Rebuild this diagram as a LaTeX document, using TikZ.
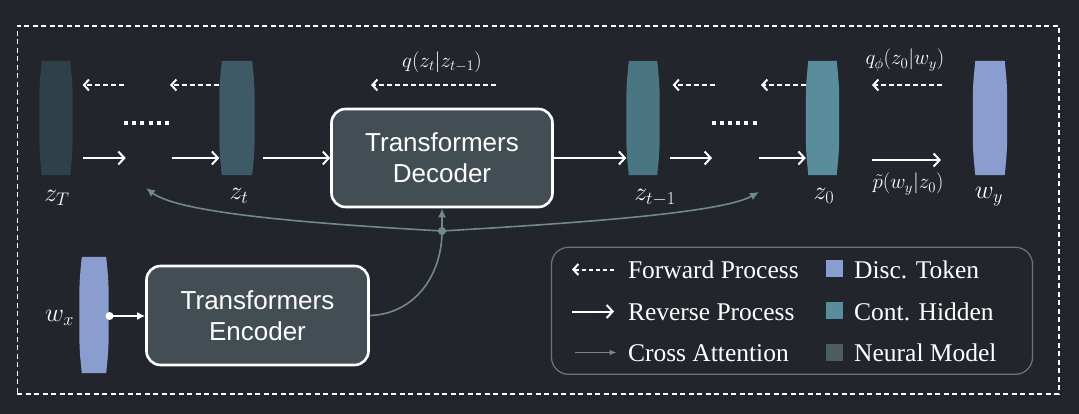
\documentclass[tikz,border=0pt]{standalone}
\usepackage{fix-cm}
\usepackage{fontspec}
\newfontfamily\boxfont{Liberation Sans}
\newfontfamily\legfont{Liberation Serif}
\usetikzlibrary{arrows.meta,calc}
\definecolor{bg}{HTML}{22252C}
\definecolor{czT}{HTML}{2F4148}
\definecolor{czt}{HTML}{3E5A66}
\definecolor{czta}{HTML}{4A7582}
\definecolor{czo}{HTML}{5A8D9B}
\definecolor{cw}{HTML}{8A9DCF}
\definecolor{cmodel}{HTML}{424E53}
\definecolor{cneural}{HTML}{4D5D5B}
\definecolor{cagreen}{HTML}{718A86}
\definecolor{leggray}{HTML}{6C757B}
\newcommand{\barrel}[2]{\fill[#2] ($(#1.north west)+(2.5,0)$) .. controls ($(#1.north west)+(0,25)$) .. (#1.west) .. controls ($(#1.south west)+(0,-25)$) .. ($(#1.south west)+(2.5,0)$) -- ($(#1.south east)+(-2.5,0)$) .. controls ($(#1.south east)+(0,-25)$) .. (#1.east) .. controls ($(#1.north east)+(0,25)$) .. ($(#1.north east)+(-2.5,0)$) -- cycle;}
\tikzset{
  tokbox/.style={inner sep=0pt, minimum width=#1, minimum height=114pt},
  tokbox/.default=33pt,
  modelbox/.style={draw=white, line width=2.6pt, fill=cmodel, rounded corners=14pt, align=center, text=white, font=\boxfont\fontsize{26}{31}\selectfont, inner sep=0pt},
  mlab/.style={text=white, font=\fontsize{26}{30}\selectfont, inner sep=0pt},
  qlab/.style={text=white, font=\fontsize{21}{25}\selectfont, inner sep=0pt},
  fwd/.style={draw=white, line width=2pt, dash pattern=on 5pt off 3pt, -{Straight Barb[length=5pt,width=11pt]}},
  rev/.style={draw=white, line width=2pt, -{Straight Barb[length=6pt,width=13pt]}},
  ca/.style={draw=cagreen, line width=1.6pt},
  catip/.style={-{Latex[length=9pt,width=8pt]}},
  dotsline/.style={draw=white, line width=4pt, dash pattern=on 4pt off 4.2pt},
  legtext/.style={text=white, font=\legfont\fontsize{25.5}{29}\selectfont, inner sep=0pt, anchor=base west},
  legsq/.style={inner sep=0pt, minimum size=16.5pt},
}
\begin{document}
\begin{tikzpicture}[x=1pt,y=-1pt]
\fill[bg] (0,0) rectangle (1079,414);
\useasboundingbox (0,0) rectangle (1079,414);
\node[draw=white, line width=1.3pt, dash pattern=on 5pt off 3.5pt, inner sep=0pt, minimum width=1041.8pt, minimum height=368pt] (frame) at (538.1,210) {};

% tokens
\node[tokbox] (zT) at (56,118) {};
\node[tokbox=35pt] (zt) at (237,118) {};
\node[tokbox] (zta) at (643,118) {};
\node[tokbox] (zo) at (822.5,118) {};
\node[tokbox=34pt] (wy) at (990,118) {};
\node[tokbox=29pt, minimum height=116pt] (wx) at (94,315) {};
\barrel{zT}{czT}
\barrel{zt}{czt}
\barrel{zta}{czta}
\barrel{zo}{czo}
\barrel{wy}{cw}
\barrel{wx}{cw}

% models
\node[modelbox, minimum width=221pt, minimum height=98pt] (dec) at (442,158) {Transformers\\Decoder};
\node[modelbox, minimum width=222pt, minimum height=99pt] (enc) at (257.5,315.5) {Transformers\\Encoder};

% labels
\node[mlab] (lzT) at (57,198) {$z_T$};
\node[mlab] (lzt) at (239,196) {$z_t$};
\node[mlab] (lzta) at (655,198) {$z_{t-1}$};
\node[mlab] (lzo) at (824,196) {$z_0$};
\node[mlab] (lwy) at (989,197) {$w_y$};
\node[mlab] (lwx) at (59.5,318) {$w_x$};
\node[qlab] (lq) at (442,62) {$q(z_t|z_{t-1})$};
\node[qlab] (lqphi) at (905,60) {$q_\phi(z_0|w_y)$};
\node[qlab] (lp) at (908,184) {$\tilde{p}(w_y|z_0)$};

% forward (dashed) arrows
\coordinate (f1a) at (124,85); \coordinate (f1b) at (82.6,85);
\coordinate (f2b) at (170,85);
\coordinate (f3a) at (496,85); \coordinate (f3b) at (371,85);
\coordinate (f4a) at (715,85); \coordinate (f4b) at (672.6,85);
\coordinate (f5b) at (761,85);
\coordinate (f6a) at (942,85); \coordinate (f6b) at (872,85);
\draw[fwd] (f1a) -- (f1b);
\draw[fwd] (zt.west |- f2b) -- (f2b);
\draw[fwd] (f3a) -- (f3b);
\draw[fwd] (f4a) -- (f4b);
\draw[fwd] (zo.west |- f5b) -- (f5b);
\draw[fwd] (f6a) -- (f6b);

% reverse arrows
\coordinate (r1a) at (82.6,158); \coordinate (r1b) at (125.7,158);
\coordinate (r2a) at (171.5,158);
\coordinate (r3a) at (262.7,158);
\coordinate (r5a) at (670,158); \coordinate (r5b) at (712,158);
\coordinate (r6a) at (758.7,158);
\coordinate (r7a) at (871.6,160); \coordinate (r7b) at (941,160);
\draw[rev] (r1a) -- (r1b);
\draw[rev] (r2a) -- (zt.west |- r2a);
\draw[rev] (r3a) -- (dec.west |- r3a);
\draw[rev] (dec.east |- r3a) -- (zta.west |- r3a);
\draw[rev] (r5a) -- (r5b);
\draw[rev] (r6a) -- (zo.west |- r6a);
\draw[rev] (r7a) -- (r7b);

% dots
\coordinate (d1a) at (124,123); \coordinate (d1b) at (169,123);
\coordinate (d2a) at (711.5,123); \coordinate (d2b) at (756.5,123);
\draw[dotsline] (d1a) -- (d1b);
\draw[dotsline] (d2a) -- (d2b);

% input to encoder
\coordinate (wxr) at (109.5,316);
\draw[white, line width=2pt, -{Latex[length=8pt,width=8pt]}] (wxr) -- (enc.west |- wxr);
\fill[white] (wxr) circle (4pt);

% cross attention
\coordinate (j) at (442,231);
\coordinate (caL) at (146,188);
\coordinate (caR) at (759,192);
\draw[ca] (enc.east) .. controls (415,314) and (442,275) .. (j);
\draw[ca, catip] (j) -- (dec.south);
\draw[ca, catip] (j) .. controls (320,224) and (180,214) .. (caL);
\draw[ca, catip] (j) .. controls (560,224) and (720,214) .. (caR);
\fill[cagreen] (j) circle (4pt);

% legend
\node[draw=leggray, line width=1.2pt, rounded corners=17pt, inner sep=0pt, minimum width=481pt, minimum height=127pt] (leg) at (792,310.8) {};
\coordinate (la1) at (614,269.5); \coordinate (lb1) at (572,269.5);
\coordinate (la2) at (572,311.5); \coordinate (lb2) at (614,311.5);
\coordinate (la3) at (574.5,352.5); \coordinate (lb3) at (616.5,352.5);
\draw[fwd, dash pattern=on 4pt off 3pt] (la1) -- (lb1);
\draw[rev] (la2) -- (lb2);
\draw[ca, -{Latex[length=7pt,width=6pt]}] (la3) -- (lb3);
\node[legtext] (t1) at (627.8,278.3) {Forward Process};
\node[legtext] (t2) at (627.8,320) {Reverse Process};
\node[legtext] (t3) at (627.8,361.7) {Cross Attention};
\node[legsq, fill=cw] (s1) at (834.7,268.7) {};
\node[legsq, fill=czo] (s2) at (834.7,310.5) {};
\node[legsq, fill=cneural] (s3) at (834.7,352.5) {};
\node[legtext] (t4) at (854,278.3) {Disc. Token};
\node[legtext] (t5) at (854,320) {Cont. Hidden};
\node[legtext] (t6) at (854,361.7) {Neural Model};
\end{tikzpicture}
\end{document}
